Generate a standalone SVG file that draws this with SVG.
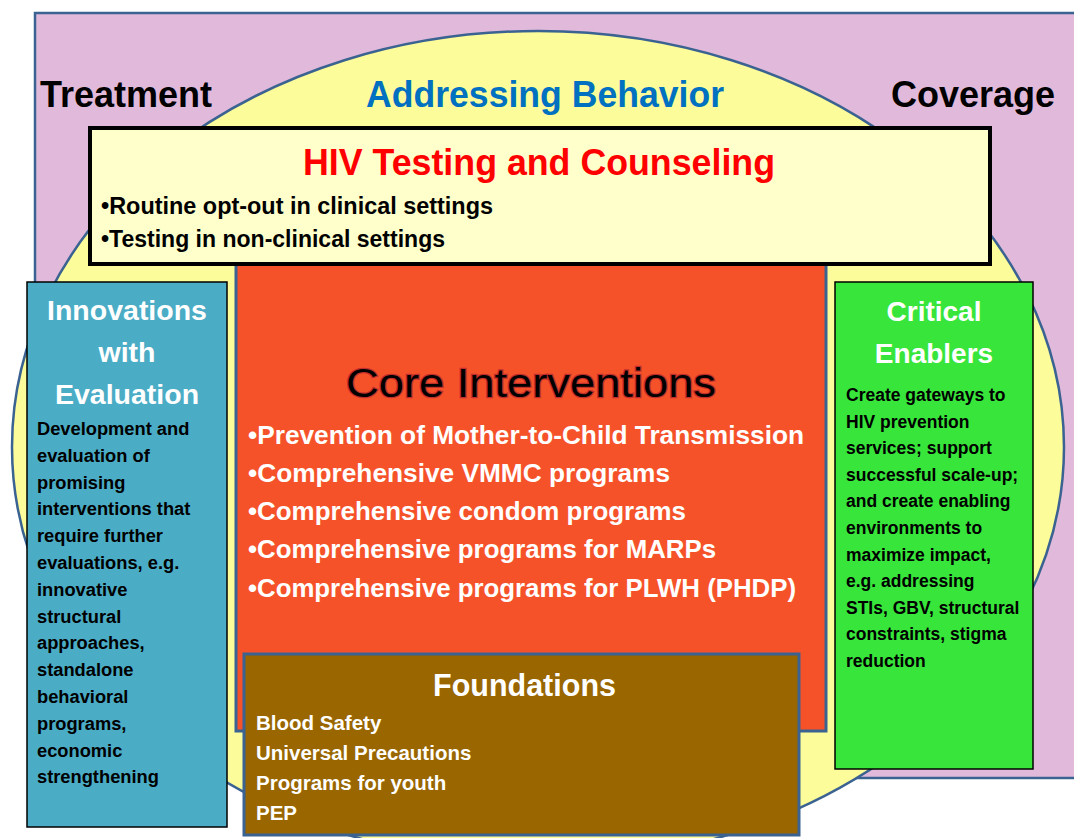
<svg xmlns="http://www.w3.org/2000/svg" width="1074" height="838" viewBox="0 0 1074 838">
<style>
text{font-family:"Liberation Sans",Arial,sans-serif;font-weight:bold}
.big{font-size:36px}
.ttl{fill:#fff;text-anchor:middle}
.blk{fill:#000}
.wht{fill:#fff}
.bstroke{stroke:#3B6391}
</style>
<rect id="background" x="0" y="0" width="1074" height="838" fill="#fff"/>
<g id="outer-frame">
<rect x="35" y="13" width="1100" height="765" fill="#E1B9DB" stroke="#3B6391" stroke-width="2.5"/>
<text class="big blk" x="126" y="107" text-anchor="middle">Treatment</text>
<text class="big blk" x="973" y="107" text-anchor="middle">Coverage</text>
</g>
<g id="behavior-ellipse">
<ellipse cx="538" cy="447" rx="526" ry="416" fill="#FDFC9A" stroke="#3B6391" stroke-width="2.5"/>
<text class="big" x="545" y="107" fill="#0070C0" text-anchor="middle" textLength="358" lengthAdjust="spacingAndGlyphs">Addressing Behavior</text>
</g>
<g id="connectors"></g>
<g id="core-interventions">
<rect x="236" y="250" width="590" height="481" fill="#F6522A" stroke="#3B6391" stroke-width="3"/>
<text x="531" y="397" font-size="40" font-weight="normal" style="font-weight:normal" fill="#000" stroke="#B3262A" stroke-width="2.5" stroke-opacity="0.8" paint-order="stroke" text-anchor="middle" textLength="370" lengthAdjust="spacingAndGlyphs">Core Interventions</text>
<g class="wht" font-size="26.3">
<text x="248" y="444" textLength="556" lengthAdjust="spacingAndGlyphs">•Prevention of Mother-to-Child Transmission</text>
<text x="248" y="482" textLength="422" lengthAdjust="spacingAndGlyphs">•Comprehensive VMMC programs</text>
<text x="248" y="520" textLength="438" lengthAdjust="spacingAndGlyphs">•Comprehensive condom programs</text>
<text x="248" y="558" textLength="468" lengthAdjust="spacingAndGlyphs">•Comprehensive programs for MARPs</text>
<text x="248" y="597" textLength="548" lengthAdjust="spacingAndGlyphs">•Comprehensive programs for PLWH (PHDP)</text>
</g>
</g>
<g id="hiv-testing">
<rect x="90" y="128" width="900" height="136" fill="#FFFFCC" stroke="#000" stroke-width="4"/>
<text class="big" x="539" y="175" fill="#FF0000" text-anchor="middle" textLength="472" lengthAdjust="spacingAndGlyphs">HIV Testing and Counseling</text>
<text class="blk" x="101" y="214" font-size="23" textLength="392" lengthAdjust="spacingAndGlyphs">•Routine opt-out in clinical settings</text>
<text class="blk" x="101" y="247" font-size="23" textLength="344" lengthAdjust="spacingAndGlyphs">•Testing in non-clinical settings</text>
</g>
<g id="innovations">
<rect x="27" y="282" width="200" height="545" fill="#4BACC6" stroke="#000" stroke-width="1.5"/>
<g class="ttl" font-size="28.5">
<text x="127" y="320">Innovations</text>
<text x="127" y="362">with</text>
<text x="127" y="404">Evaluation</text>
</g>
<g class="blk" font-size="18.3">
<text x="37" y="435">Development and</text>
<text x="37" y="461.8">evaluation of</text>
<text x="37" y="488.6">promising</text>
<text x="37" y="515.4">interventions that</text>
<text x="37" y="542.2">require further</text>
<text x="37" y="569">evaluations, e.g.</text>
<text x="37" y="595.8">innovative</text>
<text x="37" y="622.6">structural</text>
<text x="37" y="649.4">approaches,</text>
<text x="37" y="676.2">standalone</text>
<text x="37" y="703">behavioral</text>
<text x="37" y="729.8">programs,</text>
<text x="37" y="756.6">economic</text>
<text x="37" y="783.4">strengthening</text>
</g>
</g>
<g id="critical-enablers">
<rect x="835" y="282" width="198" height="487" fill="#38E63B" stroke="#000" stroke-width="1.5"/>
<g class="ttl" font-size="28">
<text x="934" y="321">Critical</text>
<text x="934" y="363">Enablers</text>
</g>
<g class="blk" font-size="17.5">
<text x="846" y="401">Create gateways to</text>
<text x="846" y="427.6">HIV prevention</text>
<text x="846" y="454.2">services; support</text>
<text x="846" y="480.8">successful scale-up;</text>
<text x="846" y="507.4">and create enabling</text>
<text x="846" y="534">environments to</text>
<text x="846" y="560.6">maximize impact,</text>
<text x="846" y="587.2">e.g. addressing</text>
<text x="846" y="613.8">STIs, GBV, structural</text>
<text x="846" y="640.4">constraints, stigma</text>
<text x="846" y="667">reduction</text>
</g>
</g>
<g id="foundations">
<rect x="244" y="654" width="555" height="181" fill="#996600" stroke="#3B6391" stroke-width="3"/>
<text class="ttl" x="524.5" y="696" font-size="30.5">Foundations</text>
<g class="wht" font-size="20.5">
<text x="256" y="730">Blood Safety</text>
<text x="256" y="760">Universal Precautions</text>
<text x="256" y="790">Programs for youth</text>
<text x="256" y="820">PEP</text>
</g>
</g>
</svg>
